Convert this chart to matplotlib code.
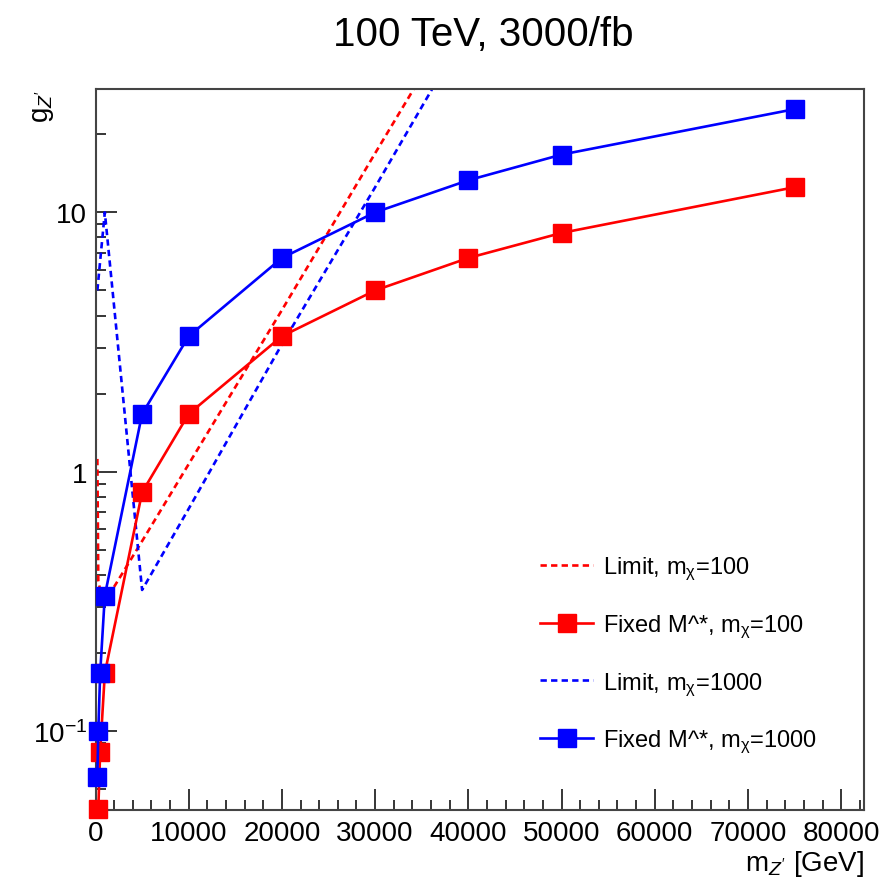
"""Z' coupling reach at a 100 TeV collider with 3000/fb.

Limit curves (dashed) and fixed-M* benchmark lines (solid, square markers)
for two dark-matter masses, on a log g_Z' axis.

Output: out.png
"""

import matplotlib
matplotlib.use("Agg")
import matplotlib.pyplot as plt
from matplotlib.ticker import FixedLocator, FixedFormatter, LogLocator, MultipleLocator, NullFormatter

plt.rcParams["font.family"] = ["Liberation Sans", "DejaVu Sans"]
plt.rcParams["mathtext.fontset"] = "custom"
plt.rcParams["mathtext.rm"] = "Liberation Sans"
plt.rcParams["mathtext.it"] = "Liberation Sans:italic"
plt.rcParams["mathtext.sf"] = "Liberation Sans"

# --- data ------------------------------------------------------------------
# limit curves, mchi = 100
LIMIT_100_MASS = [200, 300, 500, 1000, 2000, 5000, 10000, 20000, 30000, 40000]
LIMIT_100_G = [1.12, 0.38, 0.35, 0.34, 0.36, 0.54, 1.07, 4.2, 16.9, 67.0]

# fixed M*, mchi = 100
FIXED_100_MASS = [300, 500, 1000, 5000, 10000, 20000, 30000, 40000, 50000, 75000]
FIXED_100_G = [0.05, 0.0833, 0.167, 0.833, 1.67, 3.33, 5.0, 6.67, 8.33, 12.5]

# limit curves, mchi = 1000
LIMIT_1000_MASS = [200, 500, 1000, 5000, 10000, 20000, 30000, 40000]
LIMIT_1000_G = [5.0, 6.5, 10.0, 0.35, 0.72, 3.1, 12.5, 52.0]

# fixed M*, mchi = 1000
FIXED_1000_MASS = [200, 300, 500, 1000, 5000, 10000, 20000, 30000, 40000, 50000, 75000]
FIXED_1000_G = [0.0667, 0.1, 0.167, 0.333, 1.67, 3.33, 6.67, 10.0, 13.3, 16.7, 25.0]

LABELS = [
    r"Limit, m$_{\mathrm{\chi}}$=100",
    r"Fixed M^*, m$_{\mathrm{\chi}}$=100",
    r"Limit, m$_{\mathrm{\chi}}$=1000",
    r"Fixed M^*, m$_{\mathrm{\chi}}$=1000",
]

Y_TICKS = [0.1, 1, 10]
Y_TICK_LABELS = [r"10$^{-1}$", "1", "10"]

W, H = 889, 879
DASH = (0, (2.4, 1.6))


def main():
    fig = plt.figure(figsize=(W / 100, H / 100), dpi=100)
    ax = fig.add_axes([95.5 / W, 1 - 811 / H, (864 - 95.5) / W, (811 - 90) / H])

    lw = 1.9
    ms = 13
    h1, = ax.plot(LIMIT_100_MASS, LIMIT_100_G, color="#ff0000", lw=lw, ls=DASH)
    h2, = ax.plot(FIXED_100_MASS, FIXED_100_G, color="#ff0000", lw=lw,
                  marker="s", ms=ms, clip_on=False, zorder=3)
    h3, = ax.plot(LIMIT_1000_MASS, LIMIT_1000_G, color="#0000ff", lw=lw, ls=DASH)
    h4, = ax.plot(FIXED_1000_MASS, FIXED_1000_G, color="#0000ff", lw=lw,
                  marker="s", ms=ms, clip_on=False, zorder=4)

    ax.set_yscale("log")
    ax.set_xlim(0, 82450)
    ax.set_ylim(0.0496, 29.9)

    # ROOT-ish axes: inward ticks on bottom/left only
    ax.xaxis.set_major_locator(MultipleLocator(10000))
    ax.xaxis.set_minor_locator(MultipleLocator(2000))
    ax.yaxis.set_major_locator(FixedLocator(Y_TICKS))
    ax.yaxis.set_major_formatter(FixedFormatter(Y_TICK_LABELS))
    ax.yaxis.set_minor_locator(LogLocator(base=10, subs=range(2, 10)))
    ax.yaxis.set_minor_formatter(NullFormatter())
    ax.tick_params(which="both", direction="in", top=False, right=False,
                   width=1.1, colors="black", labelsize=20)
    ax.tick_params(which="major", length=15)
    ax.tick_params(which="minor", length=7.5)
    ax.tick_params(axis="x", pad=7)
    ax.tick_params(axis="y", pad=6)
    for sp in ax.spines.values():
        sp.set_color("#444444")
        sp.set_linewidth(1.5)

    ax.set_xlabel(r"m$_{Z'}$ [GeV]", fontsize=20, loc="right", labelpad=2)
    ax.set_ylabel(r"g$_{Z'}$", fontsize=20, loc="top", labelpad=0)
    ax.yaxis.set_label_coords(-0.052, 1.0)

    fig.text(483 / W, 1 - 35 / H, "100 TeV, 3000/fb", fontsize=29,
             ha="center", va="center")

    ax.legend([h1, h2, h3, h4], LABELS, loc="upper left",
              bbox_to_anchor=(540 / W, 1 - 556 / H), bbox_transform=fig.transFigure,
              frameon=False, fontsize=17, handlelength=2.25, handletextpad=0.4,
              labelspacing=1.28, borderpad=0, borderaxespad=0, numpoints=1,
              markerscale=1.0)

    fig.savefig("out.png", dpi=100)
    plt.close(fig)


if __name__ == "__main__":
    main()
